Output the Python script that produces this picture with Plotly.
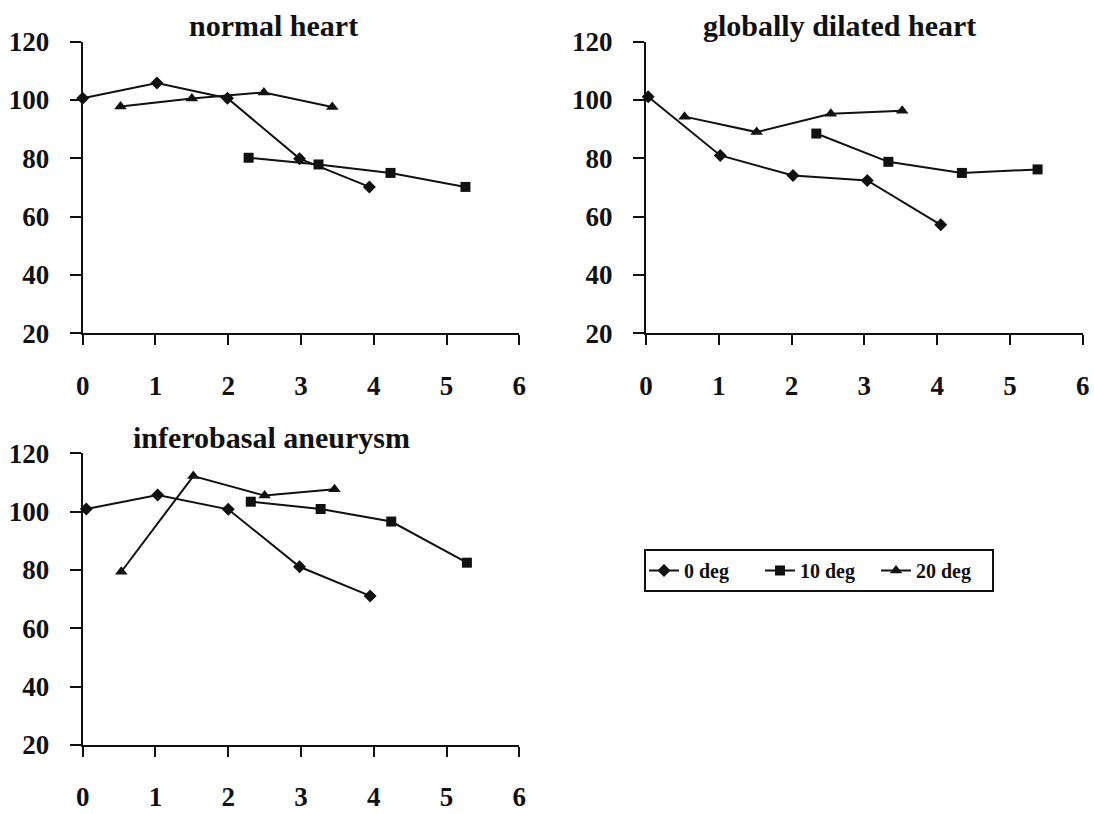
import plotly.graph_objects as go

# ---- data ----
panel_titles = ["normal heart", "globally dilated heart", "inferobasal aneurysm"]
series_names = ["0 deg", "10 deg", "20 deg"]

# normal heart
nh_x0 = [0.0, 1.02, 1.99, 2.98, 3.94]
nh_y0 = [100.6, 105.8, 100.6, 79.9, 70.2]
nh_x10 = [2.28, 3.24, 4.23, 5.26]
nh_y10 = [80.2, 77.9, 75.0, 70.2]
nh_x20 = [0.52, 1.50, 2.49, 3.43]
nh_y20 = [97.8, 100.5, 102.6, 97.6]

# globally dilated heart
gd_x0 = [0.03, 1.02, 2.02, 3.04, 4.05]
gd_y0 = [101.1, 81.0, 74.1, 72.4, 57.2]
gd_x10 = [2.34, 3.33, 4.34, 5.38]
gd_y10 = [88.5, 78.8, 75.0, 76.2]
gd_x20 = [0.53, 1.52, 2.54, 3.52]
gd_y20 = [94.3, 89.0, 95.3, 96.3]

# inferobasal aneurysm
ia_x0 = [0.05, 1.03, 2.00, 2.98, 3.95]
ia_y0 = [100.9, 105.7, 100.8, 81.1, 71.1]
ia_x10 = [2.31, 3.27, 4.24, 5.28]
ia_y10 = [103.4, 100.9, 96.6, 82.5]
ia_x20 = [0.53, 1.52, 2.50, 3.46]
ia_y20 = [79.4, 112.2, 105.5, 107.7]

x_ticks = [0, 1, 2, 3, 4, 5, 6]
y_ticks = [20, 40, 60, 80, 100, 120]

panels = [
    ((nh_x0, nh_y0), (nh_x10, nh_y10), (nh_x20, nh_y20)),
    ((gd_x0, gd_y0), (gd_x10, gd_y10), (gd_x20, gd_y20)),
    ((ia_x0, ia_y0), (ia_x10, ia_y10), (ia_x20, ia_y20)),
]

symbols = ["diamond", "square", "triangle-up"]
msizes = [10, 10, 11]
INK = "#111111"
FONT = "Liberation Serif"

W, H = 1094, 814

def px_x(p):
    return p / W

def px_y(p):
    return 1 - p / H

fig = go.Figure()
axis_ids = ["", "2", "3"]
for pi, panel in enumerate(panels):
    aid = axis_ids[pi]
    for si, (xs, ys) in enumerate(panel):
        fig.add_trace(go.Scatter(
            x=xs, y=ys, mode="lines+markers",
            name=series_names[si],
            legendgroup=series_names[si],
            showlegend=(pi == 0),
            line=dict(color=INK, width=2),
            marker=dict(symbol=symbols[si], size=msizes[si], color=INK),
            cliponaxis=False,
            xaxis="x" + aid, yaxis="y" + aid,
        ))

# axis domains (pixel-derived)
xdom_left = [px_x(82.7), px_x(519.3)]
xdom_right = [px_x(646.0), px_x(1082.7)]
ydom_top = [px_y(333.3), px_y(41.7)]
ydom_bot = [px_y(745.0), px_y(453.3)]

tickfont = dict(family=FONT, size=27, color=INK, weight="bold")

def xaxis(dom, anchor):
    return dict(domain=dom, anchor=anchor, range=[0, 6], tickvals=x_ticks,
                showline=True, linecolor=INK, linewidth=2, mirror=False,
                ticks="outside", ticklen=10, tickwidth=2, tickcolor=INK,
                showgrid=False, zeroline=False, tickfont=tickfont,
                ticklabelstandoff=17, fixedrange=True, automargin=False)

def yaxis(dom, anchor):
    return dict(domain=dom, anchor=anchor, range=[20, 120], tickvals=y_ticks,
                showline=True, linecolor=INK, linewidth=2,
                ticks="outside", ticklen=11, tickwidth=2, tickcolor=INK,
                showgrid=False, zeroline=False, tickfont=tickfont,
                ticklabelstandoff=15, fixedrange=True, automargin=False)

title_pos = [(273, 26), (839, 26), (271, 438)]
annotations = []
for t, (cx, cy) in zip(panel_titles, title_pos):
    annotations.append(dict(text="<b>%s</b>" % t, x=px_x(cx), y=px_y(cy),
                            xref="paper", yref="paper", xanchor="center",
                            yanchor="middle", showarrow=False,
                            font=dict(family=FONT, size=30, color=INK)))

fig.update_layout(
    width=W, height=H,
    margin=dict(l=0, r=0, t=0, b=0, autoexpand=False),
    paper_bgcolor="white", plot_bgcolor="white",
    xaxis=xaxis(xdom_left, "y"), yaxis=yaxis(ydom_top, "x"),
    xaxis2=xaxis(xdom_right, "y2"), yaxis2=yaxis(ydom_top, "x2"),
    xaxis3=xaxis(xdom_left, "y3"), yaxis3=yaxis(ydom_bot, "x3"),
    annotations=annotations,
    showlegend=True,
    legend=dict(orientation="h", x=px_x(644), y=px_y(549), xanchor="left",
                yanchor="top", bordercolor=INK, borderwidth=2,
                bgcolor="white", entrywidth=71, entrywidthmode="pixels",
                font=dict(family=FONT, size=20, color=INK, weight="bold")),
    font=dict(family=FONT, color=INK),
)

fig.write_html("out.html",
               config={"displayModeBar": False},
               post_script="document.body.style.margin='0';"
                           "document.body.style.overflow='hidden';")
